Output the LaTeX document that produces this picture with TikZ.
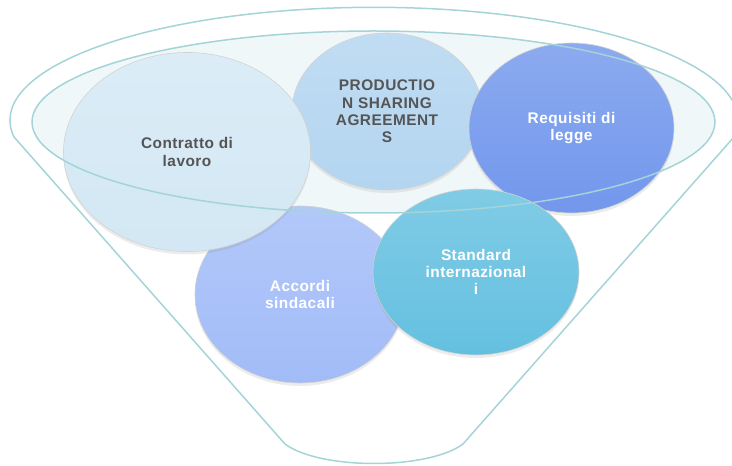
\documentclass[tikz,border=0pt]{standalone}
\usepackage{fontspec}
\setmainfont{Liberation Sans}[LetterSpace=3.0]
\usepackage{tikz}
\usetikzlibrary{shapes.geometric,shadows}
\definecolor{funnelline}{RGB}{164,212,216}
\definecolor{funnelfill}{RGB}{240,247,248}
\definecolor{txtgray}{RGB}{85,85,85}
\definecolor{contrattoc}{RGB}{211,232,244}
\definecolor{productionc}{RGB}{179,213,240}
\definecolor{requisitic}{RGB}{114,151,236}
\definecolor{accordic}{RGB}{162,188,248}
\definecolor{standardc}{RGB}{100,192,224}

\begin{document}
\begin{tikzpicture}[x=1pt, y=1pt,
    bubble/.style={ellipse, inner sep=0pt, draw=gray!35, line width=.6pt,
        top color=#1!82!white, middle color=#1, bottom color=#1,
        drop shadow={opacity=.15, shadow xshift=0pt, shadow yshift=-3pt},
        align=center, font=\bfseries\fontsize{15.4}{17.3}\selectfont},
    darktxt/.style={text=txtgray},
    lighttxt/.style={text=white},
    rim/.style={draw=funnelline, line width=1.5pt}]
    \useasboundingbox (0,0) rectangle (732,466);
    \draw[rim, line join=round] (14,329) arc[start angle=188.5, end angle=-8.5, x radius=364, y radius=113]
        -- (463,22) .. controls (428,-4) and (320,-4) .. (285,22) -- cycle;
    \fill[funnelfill] (373.5,344) ellipse[x radius=341.5, y radius=91];
    \node[bubble=productionc, darktxt, minimum width=190, minimum height=157] (production) at (387,354.5)
        {PRODUCTIO\\N SHARING\\AGREEMENT\\S};
    \node[bubble=requisitic, lighttxt, minimum width=205, minimum height=170] (requisiti) at (571.5,338)
        {Requisiti di\\legge};
    \node[bubble=accordic, lighttxt, minimum width=210, minimum height=177] (accordi) at (300,171.5)
        {Accordi\\sindacali};
    \node[bubble=contrattoc, darktxt, minimum width=247, minimum height=199] (contratto) at (187,314)
        {Contratto di\\lavoro};
    \node[bubble=standardc, lighttxt, minimum width=206, minimum height=166] (standard) at (476,194)
        {Standard\\internazional\\i};
    \draw[rim] (373.5,344) ellipse[x radius=341.5, y radius=91];
\end{tikzpicture}
\end{document}
